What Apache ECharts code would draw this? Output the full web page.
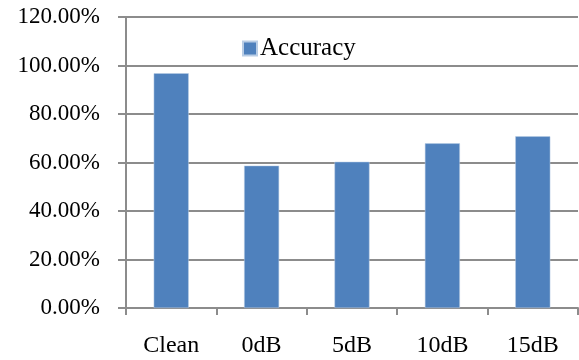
<!DOCTYPE html>
<html>
<head>
<meta charset="utf-8">
<script src="https://cdn.jsdelivr.net/npm/echarts@6/dist/echarts.min.js"></script>
<style>html,body{margin:0;padding:0;background:#fff}#c{width:579px;height:360px}</style>
</head>
<body>
<div id="c"></div>
<script>
const categories = ['Clean', '0dB', '5dB', '10dB', '15dB'];
const accuracy = [96.8, 58.7, 60.3, 67.9, 70.8];
const seriesName = 'Accuracy';

const font = '"Liberation Serif", "Times New Roman", serif';
const chart = echarts.init(document.getElementById('c'), null, {renderer: 'canvas'});
chart.setOption({
  animation: false,
  backgroundColor: '#fff',
  grid: {left: 126, right: 1, top: 17, bottom: 52, containLabel: false},
  legend: {
    data: [seriesName],
    left: 242, top: 36, padding: 0,
    itemWidth: 14, itemHeight: 14, itemGap: 4,
    icon: 'rect',
    textStyle: {fontFamily: font, fontSize: 25, color: '#000', padding: [0,0,0,-2]}
  },
  xAxis: {
    type: 'category',
    data: categories,
    axisLine: {lineStyle: {color: '#8c8c8c', width: 2}},
    axisTick: {show: true, length: 7, alignWithLabel: false, lineStyle: {color: '#8c8c8c', width: 2}},
    axisLabel: {fontFamily: font, fontSize: 24, color: '#000', margin: 26}
  },
  yAxis: {
    type: 'value',
    min: 0, max: 120, interval: 20,
    axisLine: {show: true, lineStyle: {color: '#8c8c8c', width: 2}},
    axisTick: {show: true, length: 8, lineStyle: {color: '#8c8c8c', width: 2}},
    splitLine: {show: true, lineStyle: {color: '#8c8c8c', width: 2}},
    axisLabel: {fontFamily: font, fontSize: 23, color: '#000', margin: 26,
      formatter: v => v.toFixed(2) + '%'}
  },
  series: [{
    name: seriesName,
    type: 'bar',
    data: accuracy,
    barWidth: 35,
    itemStyle: {color: '#4f81bd', borderColor: '#b9cde5', borderWidth: 0.5}
  }]
});
</script>
</body>
</html>
